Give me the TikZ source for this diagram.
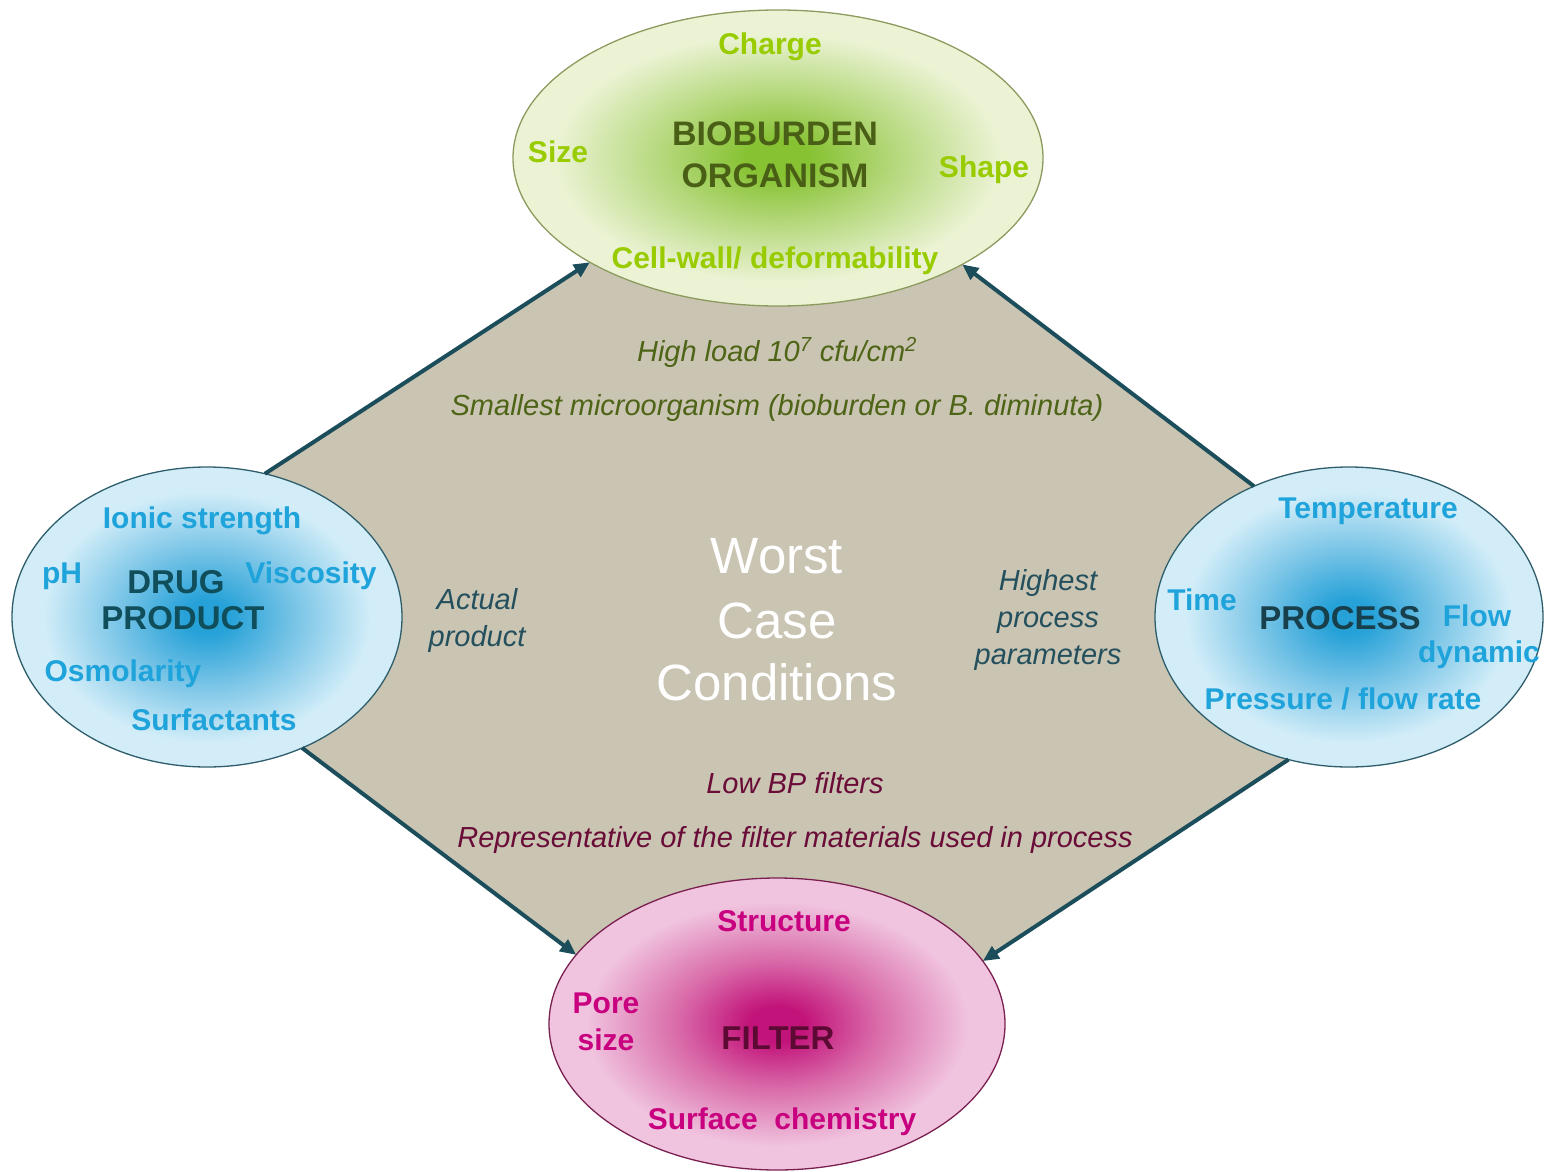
\documentclass[tikz,border=0pt]{standalone}
\usepackage{fontspec}
\setmainfont{Liberation Sans}
\usetikzlibrary{shapes.geometric,arrows.meta}
\pgfdeclarelayer{background}
\pgfsetlayers{background,main}

% palette
\definecolor{gCore}{HTML}{86C232}
\definecolor{gMid}{HTML}{B5D87C}
\definecolor{gRim}{HTML}{EBF3D4}
\definecolor{gEdge}{HTML}{8C9A5E}
\definecolor{bCore}{HTML}{27A2D8}
\definecolor{bMid}{HTML}{76C3E6}
\definecolor{bRim}{HTML}{D2EDF8}
\definecolor{bEdge}{HTML}{2E5D6B}
\definecolor{pCore}{HTML}{C2137A}
\definecolor{pMid}{HTML}{D96BA9}
\definecolor{pRim}{HTML}{F0C4DF}
\definecolor{pEdge}{HTML}{7A2050}
\definecolor{panelC}{HTML}{CAC4B2}
\definecolor{arrC}{HTML}{1B4D5B}
\definecolor{gLabC}{HTML}{99CC00}
\definecolor{gHeadC}{HTML}{4A5F16}
\definecolor{bLabC}{HTML}{1FA3DB}
\definecolor{drugC}{HTML}{0F4E5A}
\definecolor{procC}{HTML}{183F4C}
\definecolor{pLabC}{HTML}{C8007F}
\definecolor{filtC}{HTML}{5C0A33}
\definecolor{noteG}{HTML}{4E6416}
\definecolor{noteB}{HTML}{24505E}
\definecolor{noteP}{HTML}{6A0C38}

% soft radial glows for the four ellipses
\pgfdeclareradialshading{greenglow}{\pgfpoint{0bp}{0bp}}{color(0bp)=(gCore); color(3bp)=(gCore); color(11bp)=(gMid); color(21bp)=(gRim); color(50bp)=(gRim)}
\pgfdeclareradialshading{blueglow}{\pgfpoint{0bp}{0bp}}{color(0bp)=(bCore); color(3bp)=(bCore); color(11bp)=(bMid); color(21bp)=(bRim); color(50bp)=(bRim)}
\pgfdeclareradialshading{pinkglow}{\pgfpoint{0bp}{0bp}}{color(0bp)=(pCore); color(3bp)=(pCore); color(11bp)=(pMid); color(21bp)=(pRim); color(50bp)=(pRim)}

\tikzset{
  blob/.style={ellipse, inner sep=0pt, outer sep=0pt, line width=1.3pt},
  word/.style={inner sep=0pt, anchor=base},
  gLab/.style={word, text=gLabC, font=\bfseries\fontsize{30}{36}\selectfont},
  gHead/.style={word, text=gHeadC, font=\bfseries\fontsize{34}{40}\selectfont},
  bLab/.style={word, text=bLabC, font=\bfseries\fontsize{30}{36}\selectfont},
  bHead/.style={word, font=\bfseries\fontsize{33}{40}\selectfont},
  pLab/.style={word, text=pLabC, font=\bfseries\fontsize{30}{36}\selectfont},
  pHead/.style={word, text=filtC, font=\bfseries\fontsize{33}{40}\selectfont},
  note/.style={word, font=\itshape\fontsize{29}{34}\selectfont},
  big/.style={word, text=white, font=\fontsize{51}{60}\selectfont},
  link/.style={line width=4pt, draw=arrC, -{Triangle[length=16pt,width=14pt]}}
}

\begin{document}
\begin{tikzpicture}[x=1pt, y=-1pt]
\useasboundingbox (0,0) rectangle (1544,1172);

% the four factor ellipses
\node[blob, shading=greenglow, draw=gEdge, minimum width=530pt, minimum height=296pt] (bio) at (778,158) {};
\node[blob, shading=blueglow, draw=bEdge, minimum width=390pt, minimum height=300pt] (drug) at (207,617) {};
\node[blob, shading=blueglow, draw=bEdge, minimum width=388pt, minimum height=300pt] (proc) at (1349,617) {};
\node[blob, shading=pinkglow, draw=pEdge, minimum width=456pt, minimum height=292pt] (filt) at (777,1024) {};

% central panel behind the ellipses
\begin{pgfonlayer}{background}
\fill[panelC] (drug.68.7) -- (bio.209.2) -- (bio.center) -- (bio.330.5)
  -- (proc.126.9) -- (proc.center) -- (proc.247.6)
  -- (filt.17) -- (filt.center) -- (filt.161.5)
  -- (drug.306.9) -- (drug.center) -- cycle;
\end{pgfonlayer}

% connectors
\draw[link] (drug.68.7) -- (bio.209.2);
\draw[link] (proc.126.9) -- (bio.330.5);
\draw[link] (drug.306.9) -- (filt.161.5);
\draw[link] (proc.247.6) -- (filt.17);

% bioburden organism
\node[gLab] (charge) at (770,55) {Charge};
\node[gLab] (size) at (558,162) {Size};
\node[gLab] (shape) at (984,177) {Shape};
\node[gLab] (cellwall) at (775,268) {Cell-wall/ deformability};
\node[gHead] (bioA) at (775,145) {BIOBURDEN};
\node[gHead] (bioB) at (775,187) {ORGANISM};

% drug product
\node[bLab] (ionic) at (202,528) {Ionic strength};
\node[bLab] (ph) at (62,583) {pH};
\node[bLab] (visc) at (311,583) {Viscosity};
\node[bLab] (osmo) at (123,681) {Osmolarity};
\node[bLab] (surf) at (214,730) {Surfactants};
\node[bHead, text=drugC] (drugA) at (176,593) {DRUG};
\node[bHead, text=drugC] (drugB) at (183,629) {PRODUCT};

% process
\node[bLab] (temp) at (1368,518) {Temperature};
\node[bLab] (time) at (1202,610) {Time};
\node[bLab] (flowA) at (1477,626) {Flow};
\node[bLab] (flowB) at (1479,662) {dynamic};
\node[bLab] (press) at (1343,709) {Pressure / flow rate};
\node[bHead, text=procC] (procT) at (1340,629) {PROCESS};

% filter
\node[pLab] (struct) at (784,931) {Structure};
\node[pLab] (poreA) at (606,1013) {Pore};
\node[pLab] (poreB) at (606,1050) {size};
\node[pLab] (chem) at (782,1129) {Surface\ \ chemistry};
\node[pHead] (filtT) at (778,1049) {FILTER};

% notes in the panel
\node[note, text=noteG] (load) at (777,361) {High load 10\textsuperscript{7} cfu/cm\textsuperscript{2}};
\node[note, text=noteG] (small) at (777,415) {Smallest microorganism (bioburden or B. diminuta)};
\node[note, text=noteB] (actA) at (477,609) {Actual};
\node[note, text=noteB] (actB) at (477,646) {product};
\node[note, text=noteB] (hiA) at (1048,590) {Highest};
\node[note, text=noteB] (hiB) at (1048,627) {process};
\node[note, text=noteB] (hiC) at (1048,664) {parameters};
\node[note, text=noteP] (lowbp) at (795,793) {Low BP filters};
\node[note, text=noteP] (repr) at (795,847) {Representative of the filter materials used in process};

% centre title
\node[big] (wA) at (777,573) {Worst};
\node[big] (wB) at (777,638) {Case};
\node[big] (wC) at (777,700) {Conditions};
\end{tikzpicture}
\end{document}
